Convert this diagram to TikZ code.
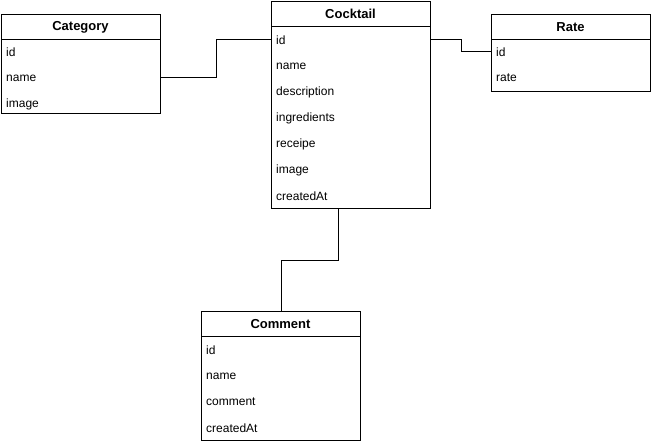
\documentclass[tikz,border=0pt]{standalone}
\usepackage{fontspec}
\setmainfont{Liberation Sans}
\begin{document}
\begin{tikzpicture}[x=1pt,y=-1pt,
  tbl/.style={draw=black,line width=1pt,fill=white,anchor=north west,inner sep=0pt},
  hdr/.style={font=\fontsize{13}{15}\selectfont\bfseries,inner sep=0pt,anchor=center},
  fld/.style={font=\fontsize{12}{14}\selectfont,inner sep=0pt,anchor=west},
  conn/.style={draw=black,line width=1pt}]
\useasboundingbox (0,0) rectangle (651,444);
\fill[white] (0,0) rectangle (651,444);

% Category
\node[tbl,minimum width=159pt,minimum height=99pt] (cat) at (1,14) {};
\draw[line width=1pt] (1,39.5) -- (160,39.5);
\node[hdr] (cath) at (80.5,27) {Category};
\node[fld] (c1) at (6,52) {id};
\node[fld] (c2) at (6,78) {name};
\node[fld] (c3) at (6,104) {image};

% Cocktail
\node[tbl,minimum width=159pt,minimum height=207pt] (ck) at (271,1) {};
\draw[line width=1pt] (271,26.5) -- (430,26.5);
\node[hdr] (ckh) at (350.5,14) {Cocktail};
\node[fld] (k1) at (276,40) {id};
\node[fld] (k2) at (276,66) {name};
\node[fld] (k3) at (276,92) {description};
\node[fld] (k4) at (276,118) {ingredients};
\node[fld] (k5) at (276,144) {receipe};
\node[fld] (k6) at (276,170) {image};
\node[fld] (k7) at (276,196) {createdAt};

% Rate
\node[tbl,minimum width=159pt,minimum height=77pt] (rt) at (491,14) {};
\draw[line width=1pt] (491,39.5) -- (650,39.5);
\node[hdr] (rth) at (570.5,27) {Rate};
\node[fld] (r1) at (496,52) {id};
\node[fld] (r2) at (496,78) {rate};

% Comment
\node[tbl,minimum width=159pt,minimum height=129pt] (cm) at (201,310.5) {};
\draw[line width=1pt] (201,336.5) -- (360,336.5);
\node[hdr] (cmh) at (280.5,324) {Comment};
\node[fld] (m1) at (206,350) {id};
\node[fld] (m2) at (206,376) {name};
\node[fld] (m3) at (206,402) {comment};
\node[fld] (m4) at (206,428) {createdAt};

% connectors
\draw[conn] (cat.east |- c2) -- ++(55,0) |- (ck.west |- k1);
\draw[conn] (ck.east |- k1) -- ++(30,0) |- (rt.west |- r1);
\draw[conn] ([xshift=-12.5pt]ck.south) -- ++(0,51) -| (cm.north);
\end{tikzpicture}
\end{document}
